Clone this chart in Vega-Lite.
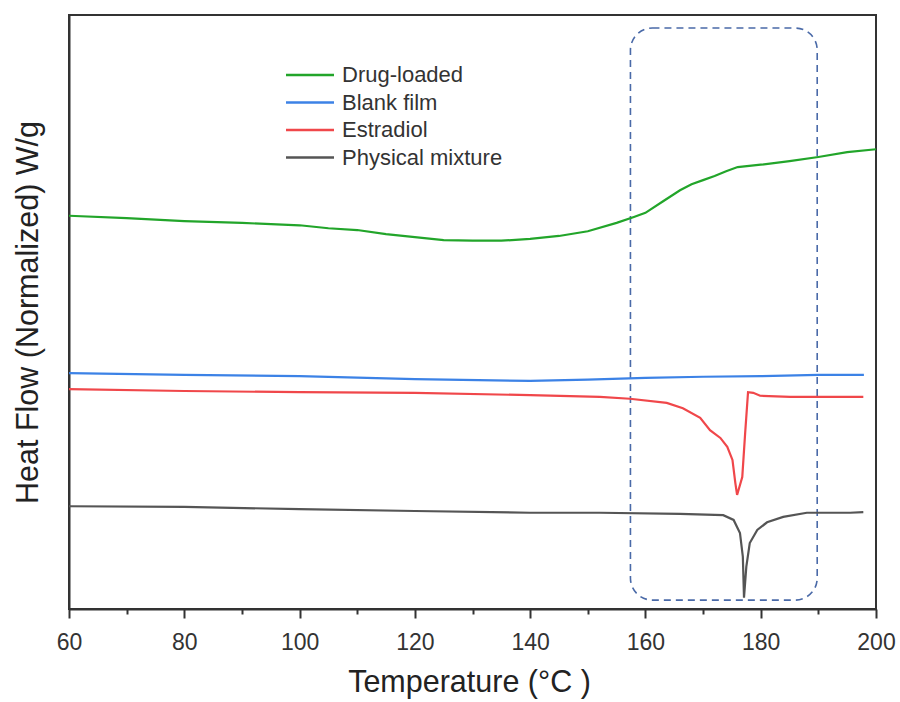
{
  "$schema": "https://vega.github.io/schema/vega-lite/v6.json",
  "width": 807,
  "height": 594,
  "autosize": "none",
  "padding": {"left": 69, "top": 15, "right": 24, "bottom": 93},
  "background": "white",
  "config": {
    "font": "Liberation Sans",
    "view": {"stroke": "#333333", "strokeWidth": 2}
  },
  "datasets": {
    "curves": [
      {"series": "Drug-loaded", "T": 60, "hf": 66.2},
      {"series": "Drug-loaded", "T": 70, "hf": 65.8},
      {"series": "Drug-loaded", "T": 80, "hf": 65.3},
      {"series": "Drug-loaded", "T": 90, "hf": 65.0},
      {"series": "Drug-loaded", "T": 100, "hf": 64.6},
      {"series": "Drug-loaded", "T": 105, "hf": 64.1},
      {"series": "Drug-loaded", "T": 110, "hf": 63.8},
      {"series": "Drug-loaded", "T": 115, "hf": 63.1},
      {"series": "Drug-loaded", "T": 120, "hf": 62.6},
      {"series": "Drug-loaded", "T": 125, "hf": 62.1},
      {"series": "Drug-loaded", "T": 130, "hf": 62.0},
      {"series": "Drug-loaded", "T": 135, "hf": 62.0},
      {"series": "Drug-loaded", "T": 140, "hf": 62.3},
      {"series": "Drug-loaded", "T": 145, "hf": 62.8},
      {"series": "Drug-loaded", "T": 150, "hf": 63.6},
      {"series": "Drug-loaded", "T": 155, "hf": 65.0},
      {"series": "Drug-loaded", "T": 158, "hf": 66.0},
      {"series": "Drug-loaded", "T": 160, "hf": 66.7},
      {"series": "Drug-loaded", "T": 163, "hf": 68.6},
      {"series": "Drug-loaded", "T": 166, "hf": 70.5},
      {"series": "Drug-loaded", "T": 168, "hf": 71.5},
      {"series": "Drug-loaded", "T": 170, "hf": 72.2},
      {"series": "Drug-loaded", "T": 172, "hf": 72.9},
      {"series": "Drug-loaded", "T": 174, "hf": 73.7},
      {"series": "Drug-loaded", "T": 176, "hf": 74.4},
      {"series": "Drug-loaded", "T": 180, "hf": 74.8},
      {"series": "Drug-loaded", "T": 185, "hf": 75.4},
      {"series": "Drug-loaded", "T": 190, "hf": 76.1},
      {"series": "Drug-loaded", "T": 195, "hf": 76.9},
      {"series": "Drug-loaded", "T": 200, "hf": 77.4},

      {"series": "Blank film", "T": 60, "hf": 39.7},
      {"series": "Blank film", "T": 80, "hf": 39.4},
      {"series": "Blank film", "T": 100, "hf": 39.2},
      {"series": "Blank film", "T": 120, "hf": 38.7},
      {"series": "Blank film", "T": 140, "hf": 38.4},
      {"series": "Blank film", "T": 150, "hf": 38.6},
      {"series": "Blank film", "T": 160, "hf": 38.9},
      {"series": "Blank film", "T": 170, "hf": 39.1},
      {"series": "Blank film", "T": 180, "hf": 39.2},
      {"series": "Blank film", "T": 190, "hf": 39.4},
      {"series": "Blank film", "T": 197.9, "hf": 39.4},

      {"series": "Estradiol", "T": 60, "hf": 37.0},
      {"series": "Estradiol", "T": 80, "hf": 36.7},
      {"series": "Estradiol", "T": 100, "hf": 36.5},
      {"series": "Estradiol", "T": 120, "hf": 36.4},
      {"series": "Estradiol", "T": 140, "hf": 36.0},
      {"series": "Estradiol", "T": 152.1, "hf": 35.7},
      {"series": "Estradiol", "T": 157.3, "hf": 35.4},
      {"series": "Estradiol", "T": 163.7, "hf": 34.7},
      {"series": "Estradiol", "T": 166.5, "hf": 33.8},
      {"series": "Estradiol", "T": 169.5, "hf": 32.2},
      {"series": "Estradiol", "T": 171.2, "hf": 30.1},
      {"series": "Estradiol", "T": 173.0, "hf": 28.8},
      {"series": "Estradiol", "T": 174.2, "hf": 27.3},
      {"series": "Estradiol", "T": 175.1, "hf": 25.1},
      {"series": "Estradiol", "T": 175.6, "hf": 21.2},
      {"series": "Estradiol", "T": 175.9, "hf": 19.2},
      {"series": "Estradiol", "T": 176.8, "hf": 22.2},
      {"series": "Estradiol", "T": 177.3, "hf": 29.6},
      {"series": "Estradiol", "T": 177.8, "hf": 36.5},
      {"series": "Estradiol", "T": 178.7, "hf": 36.4},
      {"series": "Estradiol", "T": 179.9, "hf": 35.9},
      {"series": "Estradiol", "T": 185.1, "hf": 35.7},
      {"series": "Estradiol", "T": 197.8, "hf": 35.7},

      {"series": "Physical mixture", "T": 60, "hf": 17.3},
      {"series": "Physical mixture", "T": 80, "hf": 17.2},
      {"series": "Physical mixture", "T": 100, "hf": 16.8},
      {"series": "Physical mixture", "T": 120, "hf": 16.5},
      {"series": "Physical mixture", "T": 140, "hf": 16.2},
      {"series": "Physical mixture", "T": 152.1, "hf": 16.2},
      {"series": "Physical mixture", "T": 166, "hf": 16.0},
      {"series": "Physical mixture", "T": 173.5, "hf": 15.8},
      {"series": "Physical mixture", "T": 175.3, "hf": 15.0},
      {"series": "Physical mixture", "T": 176.4, "hf": 12.8},
      {"series": "Physical mixture", "T": 176.9, "hf": 8.8},
      {"series": "Physical mixture", "T": 177.1, "hf": 1.9},
      {"series": "Physical mixture", "T": 177.5, "hf": 7.1},
      {"series": "Physical mixture", "T": 178.1, "hf": 11.1},
      {"series": "Physical mixture", "T": 179.4, "hf": 13.3},
      {"series": "Physical mixture", "T": 181.1, "hf": 14.6},
      {"series": "Physical mixture", "T": 183.9, "hf": 15.5},
      {"series": "Physical mixture", "T": 188, "hf": 16.2},
      {"series": "Physical mixture", "T": 195.5, "hf": 16.2},
      {"series": "Physical mixture", "T": 197.8, "hf": 16.3}
    ],
    "box": [
      {"T1": 157.4, "T2": 189.8, "h1": 1.5, "h2": 97.8}
    ]
  },
  "layer": [
    {
      "data": {"name": "box"},
      "mark": {"type": "rect", "fill": null, "fillOpacity": 0, "stroke": "#4a6aa8", "strokeWidth": 1.6, "strokeDash": [7, 5], "cornerRadius": 22},
      "encoding": {
        "x": {"field": "T1", "type": "quantitative", "scale": {"domain": [60, 200], "nice": false, "zero": false}},
        "x2": {"field": "T2"},
        "y": {"field": "h1", "type": "quantitative", "scale": {"domain": [0, 100], "nice": false, "zero": false}},
        "y2": {"field": "h2"}
      }
    },
    {
      "data": {"name": "curves"},
      "mark": {"type": "line", "strokeWidth": 2.2, "interpolate": "linear"},
      "encoding": {
        "x": {
          "field": "T", "type": "quantitative",
          "scale": {"domain": [60, 200], "nice": false, "zero": false},
          "axis": {
            "title": "Temperature (°C )",
            "titleFontSize": 30.5, "titleFontWeight": "normal", "titleColor": "#222222", "titlePadding": 13, "titleX": 400,
            "values": [60, 70, 80, 90, 100, 110, 120, 130, 140, 150, 160, 170, 180, 190, 200],
            "labelExpr": "datum.value % 20 === 0 ? datum.label : ''",
            "labelFlush": false,
            "labelFontSize": 23, "labelColor": "#333333", "labelPadding": 13,
            "tickSize": {"condition": {"test": "datum.value % 20 === 0", "value": 9}, "value": 5},
            "tickColor": "#333333", "tickWidth": 2,
            "domainColor": "#333333", "domainWidth": 2,
            "grid": false
          }
        },
        "y": {
          "field": "hf", "type": "quantitative",
          "scale": {"domain": [0, 100], "nice": false, "zero": false},
          "axis": {
            "title": "Heat Flow (Normalized) W/g",
            "titleFontSize": 30.5, "titleFontWeight": "normal", "titleColor": "#222222", "titlePadding": 26,
            "labels": false, "ticks": false, "grid": false,
            "domainColor": "#333333", "domainWidth": 2
          }
        },
        "color": {
          "field": "series", "type": "nominal",
          "scale": {
            "domain": ["Drug-loaded", "Blank film", "Estradiol", "Physical mixture"],
            "range": ["#22a52a", "#3c82e6", "#f0474a", "#555555"]
          },
          "legend": {
            "title": null,
            "orient": "none",
            "legendX": 230,
            "legendY": 49,
            "symbolType": "M-3,0H3",
            "symbolSize": 256,
            "symbolStrokeWidth": 2.5,
            "labelFontSize": 22,
            "labelColor": "#333333",
            "labelOffset": 21,
            "labelLimit": 400,
            "rowPadding": 5.5,
            "padding": 0
          }
        }
      }
    }
  ]
}
